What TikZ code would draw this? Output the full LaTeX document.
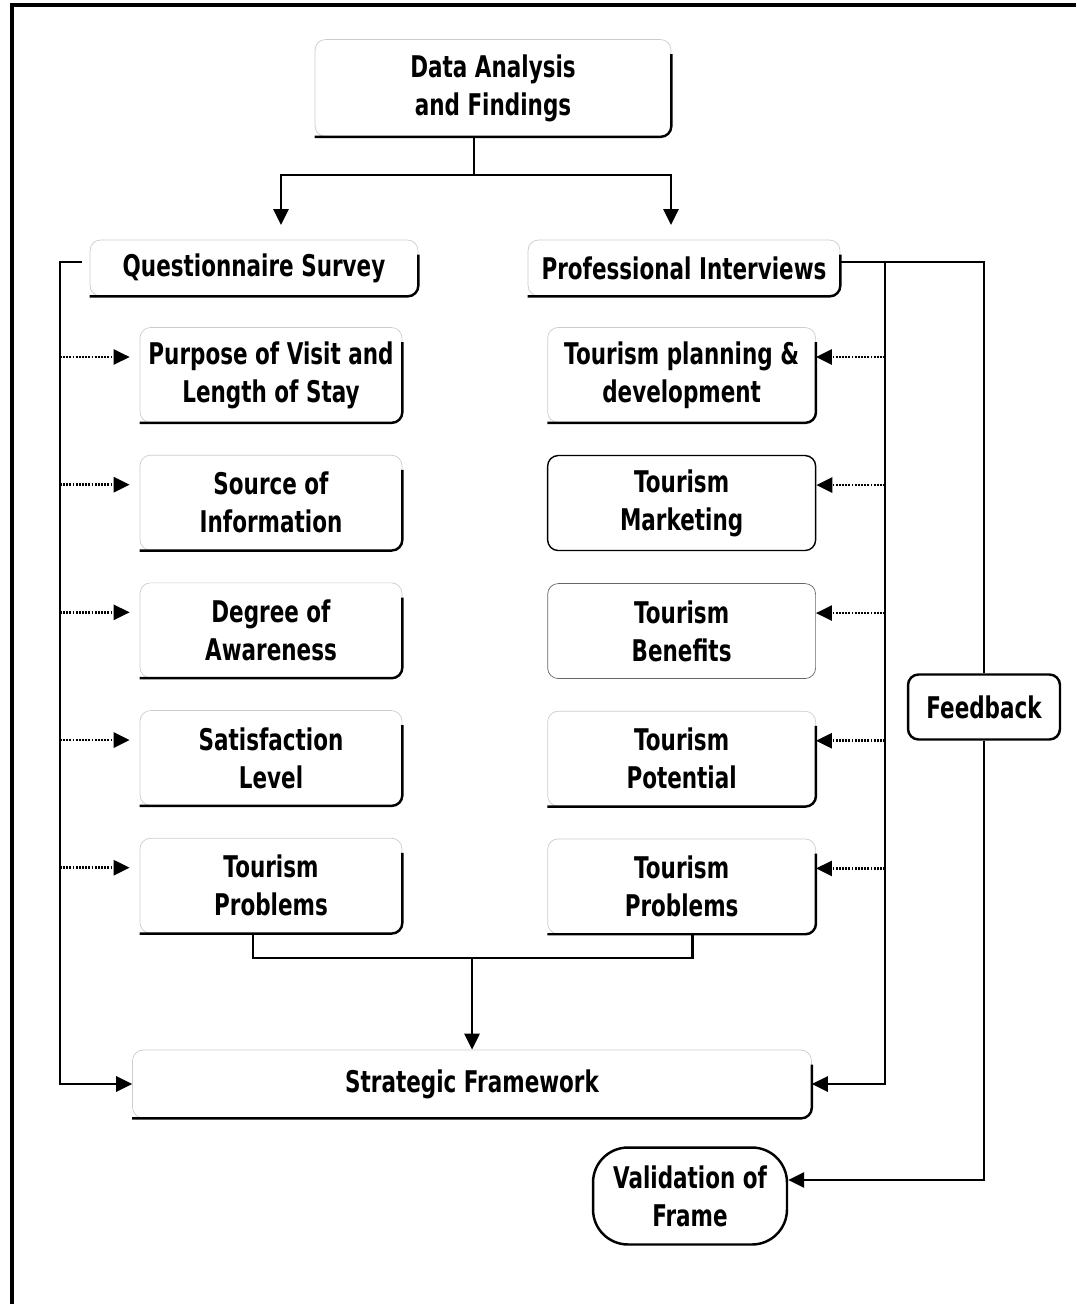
\documentclass[tikz,border=0pt]{standalone}
\usepackage{fontspec}
\setmainfont{DejaVu Sans}[FakeStretch=0.72]
\usepackage{tikz}
\usetikzlibrary{arrows.meta, positioning}

\newcommand{\boxfont}{\fontsize{17}{21.6}\selectfont\bfseries}

\begin{document}
\begin{tikzpicture}[
x=0.02cm, y=-0.02cm,
node distance=0.64cm,
item/.style={rectangle, rounded corners=6pt, draw=black!20, thin, minimum width=5.24cm, minimum height=1.9cm, align=center, font=\boxfont},
head/.style={rectangle, rounded corners=6pt, draw=black!20, thin, minimum height=1.12cm, align=center, font=\boxfont},
link/.style={line width=1.6pt, -{Triangle[length=0.32cm, width=0.3cm]}},
fb/.style={line width=1.5pt, dash pattern=on 1pt off 0.8pt, -{Triangle[length=0.32cm, width=0.3cm]}}
]
\useasboundingbox (0,0) rectangle (1076,1304);

% Frame
\draw[line width=1.8pt] (1076,5) -- (12,5) -- (12,1304);

% Top
\node[head, minimum width=7.12cm, minimum height=1.94cm] (data) at (493,88) {Data Analysis\\and Findings};
\node[head, minimum width=6.56cm] (survey) at (254,268) {Questionnaire Survey};
\node[head, minimum width=6.24cm] (interview) at (684,268) {Professional Interviews};

% Survey items
\node[item] (q1) at (271,375) {Purpose of Visit and\\Length of Stay};
\node[item, below=of q1] (q2) {Source of\\Information};
\node[item, below=of q2] (q3) {Degree of\\Awareness};
\node[item, below=of q3] (q4) {Satisfaction\\Level};
\node[item, below=of q4] (q5) {Tourism\\Problems};

% Interview items
\node[item, minimum width=5.36cm, right=2.9cm of q1] (p1) {Tourism planning \&\\development};
\node[item, minimum width=5.36cm, below=of p1, draw=black, thick] (p2) {Tourism\\Marketing};
\node[item, minimum width=5.36cm, below=of p2, draw=black!60] (p3) {Tourism\\Benefits};
\node[item, minimum width=5.36cm, below=of p3] (p4) {Tourism\\Potential};
\node[item, minimum width=5.36cm, below=of p4] (p5) {Tourism\\Problems};

% Bottom
\node[head, minimum width=13.58cm, minimum height=1.36cm] (strat) at (472,1084) {Strategic Framework};
\node[head, draw=black, line width=1.4pt, minimum width=3.04cm, minimum height=1.3cm] (feedback) at (984,707) {Feedback};
\node[head, draw=black, line width=1.4pt, rounded corners=0.7cm, minimum width=3.88cm, minimum height=1.94cm] (valid) at (690,1196) {Validation of\\Frame};

% Darker bottom and right edges
\foreach \b in {data,survey,interview,q1,q2,q3,q4,q5,p1,p4,p5,strat}
  \draw[line width=1.4pt, rounded corners=6pt] ([yshift=-0.3cm]\b.north east) -- (\b.south east) -- (\b.south west);

% Connectors
\coordinate (split) at (474,175);
\coordinate (qin) at (281,225);
\coordinate (pin) at (671,225);
\coordinate (lbus) at (60,262);
\coordinate (rbus) at (885,262);
\coordinate (merge) at (472,958);

\draw[line width=1.6pt] (data.south -| split) -- (split);
\draw[link] (split) -| (qin);
\draw[link] (split) -| (pin);
\draw[link] ([xshift=0.44cm]lbus) -- (lbus) |- (strat.west);
\draw[link] (rbus) |- (strat.east);
\draw[line width=1.6pt] (interview.east |- rbus) -| (feedback.north);
\draw[link] (feedback.south) |- ([yshift=0.32cm]valid.east);
\foreach \i in {1,...,5} {
  \draw[fb] ([yshift=0.36cm]q\i.west -| lbus) -- ([xshift=-0.2cm, yshift=0.36cm]q\i.west);
  \draw[fb] ([yshift=0.36cm]p\i.east -| rbus) -- ([yshift=0.36cm]p\i.east);
}
\draw[line width=1.6pt] ([xshift=-0.36cm]q5.south) |- (merge) -| ([xshift=0.22cm]p5.south);
\draw[link] (merge) -- (strat.north);

\end{tikzpicture}
\end{document}
